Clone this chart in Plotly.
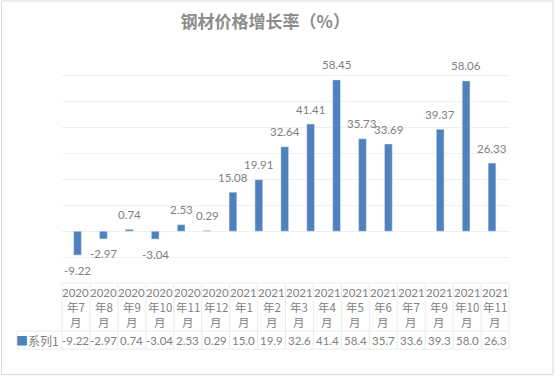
import plotly.graph_objects as go

# ---- data ----
categories = ["2020年7月", "2020年8月", "2020年9月", "2020年10月", "2020年11月", "2020年12月",
              "2021年1月", "2021年2月", "2021年3月", "2021年4月", "2021年5月", "2021年6月",
              "2021年7月", "2021年9月", "2021年10月", "2021年11月"]
values = [-9.22, -2.97, 0.74, -3.04, 2.53, 0.29, 15.08, 19.91, 32.64, 41.41, 58.45,
          35.73, 33.69, 39.37, 58.06, 26.33]
table_values = ["-9.22", "-2.97", "0.74", "-3.04", "2.53", "0.29", "15.0", "19.9", "32.6",
                "41.4", "58.4", "35.7", "33.6", "39.3", "58.0", "26.3"]
series_name = "系列1"
empty_slot_after = "2021年7月"   # the plot leaves one empty category slot here

# ---- layout constants ----
W, H = 555, 376
L, R, T, B = 62, 46, 50, 93
PW, PH = W - L - R, H - T - B
BAR = "#4F81BD"
TXT = "#808080"
LINE = "#ececec"
NUM_FONT = "Lato, Noto Sans CJK SC, sans-serif"
CJK_FONT = "Noto Sans CJK SC, sans-serif"

# plot slots (one blank slot)
k = categories.index(empty_slot_after) + 1
slot_x = categories[:k] + [" "] + categories[k:]
slot_y = values[:k] + [None] + values[k:]

def px2paper_x(px):
    return (px - L) / PW

def px2paper_y(py):
    return (H - B - py) / PH

fig = go.Figure()
fig.add_trace(go.Bar(x=slot_x, y=slot_y, marker_color=BAR, width=0.3, name=series_name,
                     showlegend=False, hoverinfo="skip"))

ann = []
for c, v in zip(categories, values):
    ann.append(dict(x=c, y=v, xref="x", yref="y", text=f"{v:.2f}", showarrow=False,
                    yshift=15 if v >= 0 else -15, yanchor="middle",
                    font=dict(family=NUM_FONT, size=11.5, color=TXT)))

# data table
n = len(categories)
for i, (c, tv) in enumerate(zip(categories, table_values)):
    year, rest = c.split("年")
    lines = [year, "年" + rest[:-1], "月"]
    xc = (i + 0.5) / n
    for j, (ln, py) in enumerate(zip(lines, [292, 307, 322])):
        ann.append(dict(x=xc, y=0, xref="paper", yref="paper", text=ln, showarrow=False,
                        yanchor="middle", xanchor="center", yshift=-(py - (H - B)),
                        font=dict(family=NUM_FONT if j == 0 else CJK_FONT,
                                  size=11.5, color=TXT)))
    ann.append(dict(x=xc, y=0, xref="paper", yref="paper", text=tv, showarrow=False,
                    yanchor="middle", xanchor="center", yshift=-(340 - (H - B)),
                    font=dict(family=NUM_FONT, size=11.5, color=TXT)))
# legend key in table
ann.append(dict(x=0, y=0, xref="paper", yref="paper",
                text=f"<span style='color:{BAR}'>■</span>{series_name}", showarrow=False,
                xanchor="right", yanchor="middle", yshift=-(340 - (H - B)), xshift=-1,
                font=dict(family=CJK_FONT, size=12, color=TXT)))

shapes = []
for i in range(n + 1):
    shapes.append(dict(type="line", xref="paper", yref="paper", x0=i / n, x1=i / n,
                       y0=px2paper_y(283), y1=px2paper_y(349), line=dict(color=LINE, width=1)))
shapes.append(dict(type="line", xref="paper", yref="paper", x0=0, x1=1,
                   y0=px2paper_y(283), y1=px2paper_y(283), line=dict(color=LINE, width=1)))
for py in (331, 349):
    shapes.append(dict(type="line", xref="paper", yref="paper", x0=px2paper_x(17), x1=1,
                       y0=px2paper_y(py), y1=px2paper_y(py), line=dict(color=LINE, width=1)))
shapes.append(dict(type="line", xref="paper", yref="paper", x0=px2paper_x(17), x1=px2paper_x(17),
                   y0=px2paper_y(331), y1=px2paper_y(349), line=dict(color=LINE, width=1)))
# chart border
shapes.append(dict(type="rect", xref="paper", yref="paper", x0=px2paper_x(1.5), x1=px2paper_x(553),
                   y0=px2paper_y(374.5), y1=px2paper_y(1), line=dict(color="#d9d9d9", width=1)))

fig.update_layout(
    width=W, height=H,
    margin=dict(l=L, r=R, t=T, b=B),
    paper_bgcolor="white", plot_bgcolor="white",
    title=dict(text="<b>钢材价格增长率（%）</b>", x=0.478, xanchor="center", y=1 - 22 / H,
               yanchor="middle",
               font=dict(family=CJK_FONT, size=17, color="#8c8c8c")),
    xaxis=dict(type="category", categoryorder="array", categoryarray=slot_x,
               showticklabels=False, showgrid=False, zeroline=False, showline=False, ticks=""),
    yaxis=dict(range=[-20, 70], dtick=10, showticklabels=False, gridcolor="#f0f0f0",
               zeroline=False, showline=False, ticks=""),
    annotations=ann, shapes=shapes,
    bargap=0.7, showlegend=False,
)
fig.write_html("out.html", config={"displayModeBar": False},
               post_script="document.body.style.margin='0';document.body.style.padding='0';")
